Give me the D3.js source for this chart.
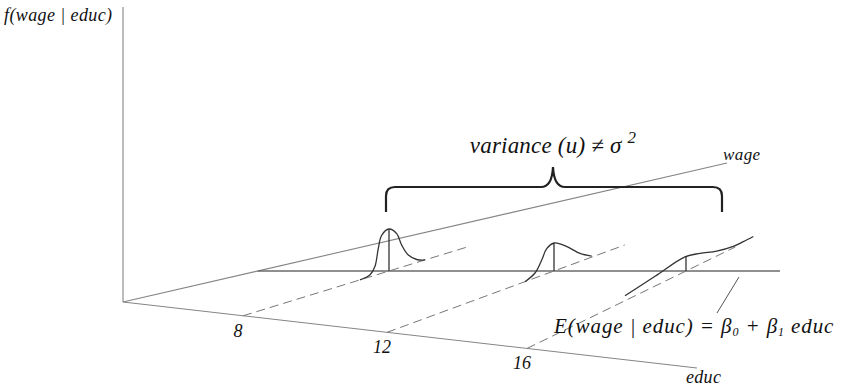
<!DOCTYPE html>
<html>
<head>
<meta charset="utf-8">
<script src="https://cdn.jsdelivr.net/npm/d3@7"></script>
</head>
<body style="margin:0; background:#fff">
<div id="content"></div>
<script>
// values
const educTicks = [8, 12, 16]
// deviation of wage from E(wage|educ) (u) and height of f(wage|educ), one pair per educ level
const dev8 = [-2.9, -1.9, -1.4, -1.07, -0.73, 0, 0.77, 1.27, 1.93, 2.77, 3.6]
const dens8 = [0, 0.2, 0.9, 2.6, 3.8, 4.2, 3.5, 2.2, 1.0, 0.3, 0]
const dev12 = [-2.9, -1.9, -1.23, -0.73, 0, 0.6, 1.6, 2.6, 3.77]
const dens12 = [0, 0.5, 1.55, 2.5, 2.8, 2.5, 1.7, 0.8, 0.1]
const dev16 = [-6.1, -3.1, -0.1, 1.4, 3.07, 4.73, 5.73, 6.73]
const dens16 = [0.49, 0.98, 1.47, 1.08, 0.5, 0.16, 0.14, 0.17]
const densities = [
  {educ: 8, u: dev8, f: dens8},
  {educ: 12, u: dev12, f: dens12},
  {educ: 16, u: dev16, f: dens16},
]

const outerWidth = 846
const outerHeight = 390
const serif = "Liberation Serif"

const svg = d3.select("#content").append("svg")
    .attr("width", outerWidth)
    .attr("height", outerHeight)

// "3d" frame
const origin = [123, 302]
const educEnd = [697, 368]
const wageEnd = [727, 163]
const yTop = 7
const regY = 271        // E(wage|educ) drawn as flat line
const wageTopY = 247    // far end of the dashed lines

// where each educ level sits on the educ axis
const educX = d3.scaleLinear().domain([8, 12, 16]).range([243, 387, 527])
const educAxisY = d3.scaleLinear().domain([origin[0], educEnd[0]]).range([origin[1], educEnd[1]])
// where E(wage|educ) sits for each educ level
const regX = d3.scaleLinear().domain([8, 12, 16]).range([389, 554, 686])
// wage deviation and density -> pixels
const uScale = d3.scaleLinear().domain([0, 1]).range([0, 10])
const fScale = d3.scaleLinear().domain([0, 1]).range([0, 10])
const wageAxisY = d3.scaleLinear().domain([origin[0], wageEnd[0]]).range([origin[1], wageEnd[1]])

const base = e => [educX(e), educAxisY(educX(e))]
const reg = e => [regX(e), regY]
const slopeOf = e => {
  const b = base(e), r = reg(e)
  return (b[1] - r[1]) / (r[0] - b[0])
}

const axisColor = "#858585"
const line = d3.line()

// axes
svg.append("path").attr("d", line([[origin[0], yTop], origin]))
    .attr("stroke", axisColor).attr("stroke-width", 1.1).attr("fill", "none")
svg.append("path").attr("d", line([origin, wageEnd]))
    .attr("stroke", axisColor).attr("stroke-width", 1.1).attr("fill", "none")
svg.append("path").attr("d", line([origin, educEnd]))
    .attr("stroke", axisColor).attr("stroke-width", 1.1).attr("fill", "none")

// E(wage|educ)
const regStart = wageAxisY.invert(regY)
svg.append("path").attr("d", line([[regStart, regY], [780, regY]]))
    .attr("stroke", "#6a6a6a").attr("stroke-width", 1.3).attr("fill", "none")

// dashed wage lines at each educ level
svg.selectAll(".wline")
  .data(educTicks)
  .join("path")
    .attr("class", "wline")
    .attr("d", e => {
      const b = base(e), s = slopeOf(e)
      const top = e === 12 ? wageTopY - 2 : wageTopY
      return line([b, [b[0] + (b[1] - top) / s, top]])
    })
    .attr("stroke", "#777")
    .attr("stroke-dasharray", "9,5")
    .attr("fill", "none")

// densities
const curve = d3.line().curve(d3.curveCatmullRom.alpha(0.5))
densities.forEach(d => {
  const r = reg(d.educ), s = slopeOf(d.educ)
  const pts = d.u.map((u, i) => {
    const dx = uScale(u)
    return [r[0] + dx, r[1] - s * dx - fScale(d.f[i])]
  })
  svg.append("path").attr("d", curve(pts))
      .attr("stroke", "#333").attr("stroke-width", 1.3).attr("fill", "none")
  const peak = d.f[d.u.indexOf(d3.least(d.u, u => Math.abs(u)))]
  svg.append("path").attr("d", line([r, [r[0], r[1] - fScale(peak)]]))
      .attr("stroke", "#333").attr("stroke-width", 1.3).attr("fill", "none")
})

// bracket
const bL = 386, bR = 722, bTop = 187, bBot = 212, bMid = 553, cusp = 167
const bp = d3.path()
bp.moveTo(bL, bBot)
bp.lineTo(bL, bTop + 9)
bp.quadraticCurveTo(bL, bTop, bL + 9, bTop)
bp.lineTo(bMid - 12, bTop)
bp.quadraticCurveTo(bMid - 1, bTop, bMid, cusp)
bp.quadraticCurveTo(bMid + 1, bTop, bMid + 12, bTop)
bp.lineTo(bR - 9, bTop)
bp.quadraticCurveTo(bR, bTop, bR, bTop + 9)
bp.lineTo(bR, bBot)
svg.append("path").attr("d", bp.toString())
    .attr("stroke", "#222").attr("stroke-width", 2.2).attr("fill", "none")

// leader for E(wage|educ)
svg.append("path").attr("d", line([[739, 277], [717, 313]]))
    .attr("stroke", "#555").attr("fill", "none")

// labels
const label = (x, y, size, spacing) => svg.append("text")
    .attr("x", x).attr("y", y)
    .attr("font-family", serif).attr("font-style", "italic")
    .attr("font-size", size).attr("fill", "#111")
    .attr("letter-spacing", spacing)

svg.selectAll(".tick")
  .data(educTicks)
  .join("text")
    .attr("class", "tick")
    .attr("x", e => base(e)[0] - 5)
    .attr("y", e => base(e)[1] + 21)
    .attr("text-anchor", "middle")
    .attr("font-family", serif).attr("font-style", "italic")
    .attr("font-size", 18).attr("fill", "#111")
    .text(d => d)

label(4, 21, 18, 0.4).text("f(wage | educ)")
label(723, 160, 17, 0.4).text("wage")
label(686, 383, 18, 0.3).text("educ")

const v = label(553, 153, 23, 0.2).attr("text-anchor", "middle")
v.append("tspan").text("variance (u) ≠ σ ")
v.append("tspan").attr("dy", -10).attr("font-size", 17).text("2")

const el = label(554, 333, 21, 0.9)
el.append("tspan").text("E(wage | educ) = β")
el.append("tspan").attr("dy", 3).attr("font-size", 12).text("0")
el.append("tspan").attr("dy", -3).text(" + β")
el.append("tspan").attr("dy", 3).attr("font-size", 12).text("1")
el.append("tspan").attr("dy", -3).text(" educ")
</script>
</body>
</html>
